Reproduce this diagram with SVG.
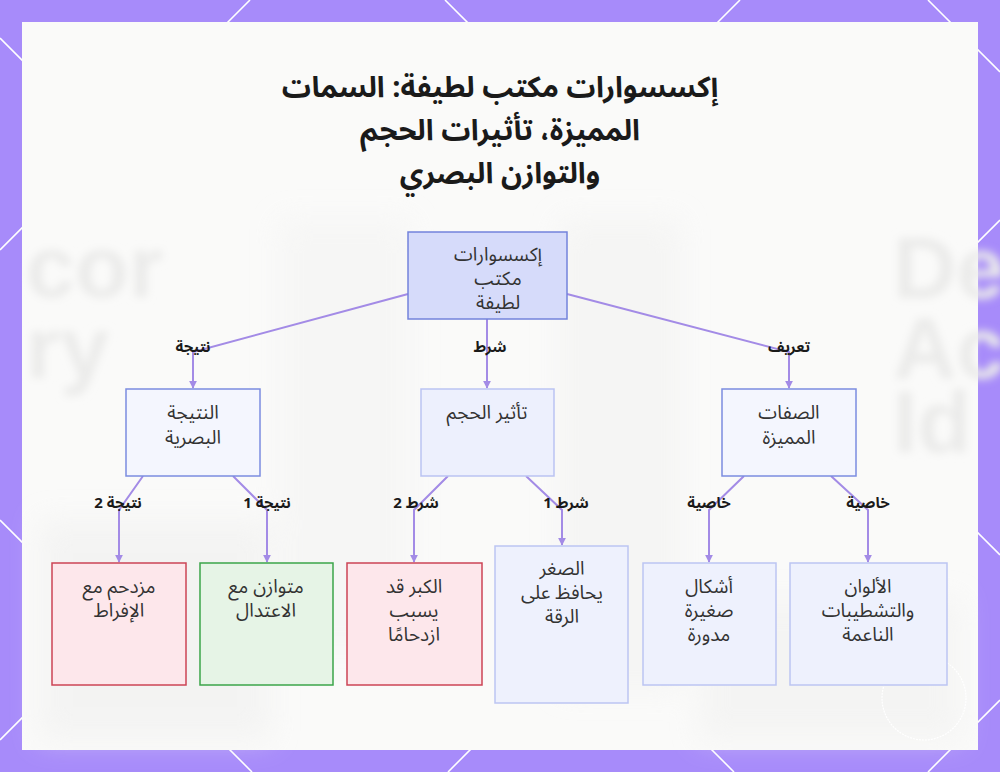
<svg xmlns="http://www.w3.org/2000/svg" width="1000" height="772" viewBox="0 0 1000 772">
<style>
  .ar{font-family:"Noto Sans Arabic","Noto Sans","DejaVu Sans",sans-serif;direction:rtl;}
  .title{font-size:29px;font-weight:bold;fill:#1a1a1a;text-anchor:middle;}
  .nt{font-size:19px;fill:#333333;text-anchor:middle;}
  .lbl{font-size:15px;font-weight:bold;fill:#1a1a1a;text-anchor:middle;}
  .edge{fill:none;stroke:#A38BE6;stroke-width:2;}
  .bline{stroke:#ffffff;stroke-width:1.6;}
  .bgtxt{font-family:"Liberation Sans",Arial,sans-serif;font-weight:bold;font-size:88px;fill:#ebebea;}
</style>
<defs>
  <marker id="arr" viewBox="0 0 10 10" refX="9" refY="5" markerWidth="4" markerHeight="4" orient="auto">
    <path d="M0,0 L10,5 L0,10 z" fill="#A38BE6"/>
  </marker>
  <filter id="blur" x="-20%" y="-20%" width="140%" height="140%"><feGaussianBlur stdDeviation="4"/></filter>
  <filter id="blur2" x="-20%" y="-20%" width="140%" height="140%"><feGaussianBlur stdDeviation="14"/></filter>
</defs>
<!-- border -->
<rect x="0" y="0" width="1000" height="772" fill="#A78BFA"/>
<g class="bline">
  <line x1="250" y1="0" x2="0" y2="250"/>
  <line x1="740" y1="0" x2="0" y2="740"/>
  <line x1="1000" y1="220" x2="448" y2="772"/>
  <line x1="1000" y1="700" x2="928" y2="772"/>
  <line x1="0" y1="520" x2="252" y2="772"/>
  <line x1="0" y1="38" x2="734" y2="772"/>
  <line x1="445" y1="0" x2="1000" y2="555"/>
  <line x1="928" y1="0" x2="1000" y2="72"/>
</g>
<!-- panel -->
<rect x="22" y="22" width="956" height="728" fill="#FAFAF9"/>
<g id="background" filter="url(#blur2)" opacity="0.55">
  <rect x="40" y="520" width="230" height="220" fill="#EFEFEE"/>
  <rect x="280" y="220" width="130" height="430" fill="#F3F3F2"/>
  <rect x="560" y="220" width="120" height="470" fill="#F1F1F0"/>
  <rect x="700" y="600" width="260" height="140" fill="#F0F0EF"/>
</g>
<g id="bg-text" filter="url(#blur)">
  <text class="bgtxt" x="26" y="297">cor</text>
  <text class="bgtxt" x="26" y="378">ry</text>
  <text class="bgtxt" x="893" y="298">De</text>
  <text class="bgtxt" x="893" y="378">Ac</text>
  <text class="bgtxt" x="893" y="452">Id</text>
</g>
<circle cx="924" cy="698" r="42" fill="none" stroke="#ffffff" stroke-width="1.2" stroke-dasharray="2 1"/>
<!-- title -->
<g id="title" class="ar title">
  <text x="500" y="97">إكسسوارات مكتب لطيفة: السمات</text>
  <text x="500" y="140">المميزة، تأثيرات الحجم</text>
  <text x="500" y="183">والتوازن البصري</text>
</g>
<!-- connectors -->
<g id="connectors">
  <polyline class="edge" points="408,294 193,352 193,388" marker-end="url(#arr)"/>
  <polyline class="edge" points="487,319 487,388" marker-end="url(#arr)"/>
  <polyline class="edge" points="567,294 789,352 789,388" marker-end="url(#arr)"/>
  <polyline class="edge" points="143,476 119,510 119,562" marker-end="url(#arr)"/>
  <polyline class="edge" points="233,476 267,510 267,562" marker-end="url(#arr)"/>
  <polyline class="edge" points="448,476 414,510 414,562" marker-end="url(#arr)"/>
  <polyline class="edge" points="526,476 562,510 562,545" marker-end="url(#arr)"/>
  <polyline class="edge" points="744,476 709,510 709,562" marker-end="url(#arr)"/>
  <polyline class="edge" points="831,476 868,510 868,562" marker-end="url(#arr)"/>
  <g class="ar lbl">
    <text x="193" y="352">نتيجة</text>
    <text x="490" y="352">شرط</text>
    <text x="789" y="352">تعريف</text>
    <text x="118" y="508">نتيجة 2</text>
    <text x="267" y="508">نتيجة 1</text>
    <text x="416" y="508">شرط 2</text>
    <text x="566" y="508">شرط 1</text>
    <text x="709" y="508">خاصية</text>
    <text x="868" y="508">خاصية</text>
  </g>
</g>
<!-- nodes -->
<g id="root">
  <rect x="408" y="232" width="159" height="87" fill="#D6DBFA" stroke="#7383DB" stroke-width="1.5"/>
  <g class="ar nt"><text x="498" y="261">إكسسوارات</text><text x="498" y="285">مكتب</text><text x="498" y="309">لطيفة</text></g>
</g>
<g id="visual-result">
  <rect x="126" y="389" width="134" height="87" fill="#F4F6FE" stroke="#7B8CE0" stroke-width="1.5"/>
  <g class="ar nt"><text x="193" y="419">النتيجة</text><text x="193" y="444">البصرية</text></g>
</g>
<g id="size-effect">
  <rect x="421" y="389" width="133" height="87" fill="#EDF0FD" stroke="#BAC3F2" stroke-width="1.5"/>
  <g class="ar nt"><text x="487" y="419">تأثير الحجم</text></g>
</g>
<g id="features">
  <rect x="722" y="389" width="134" height="87" fill="#F4F6FE" stroke="#7B8CE0" stroke-width="1.5"/>
  <g class="ar nt"><text x="789" y="419">الصفات</text><text x="789" y="444">المميزة</text></g>
</g>
<g id="crowded">
  <rect x="52" y="563" width="134" height="122" fill="#FDE7EB" stroke="#CC4455" stroke-width="1.5"/>
  <g class="ar nt"><text x="119" y="593">مزدحم مع</text><text x="119" y="617">الإفراط</text></g>
</g>
<g id="balanced">
  <rect x="200" y="563" width="133" height="122" fill="#E6F4E6" stroke="#3BA54A" stroke-width="1.5"/>
  <g class="ar nt"><text x="266" y="593">متوازن مع</text><text x="266" y="617">الاعتدال</text></g>
</g>
<g id="large">
  <rect x="347" y="563" width="135" height="122" fill="#FDE7EB" stroke="#CC4455" stroke-width="1.5"/>
  <g class="ar nt"><text x="414" y="593">الكبر قد</text><text x="414" y="617">يسبب</text><text x="414" y="641">ازدحامًا</text></g>
</g>
<g id="small">
  <rect x="495" y="546" width="133" height="157" fill="#EEF1FD" stroke="#BCC5F2" stroke-width="1.5"/>
  <g class="ar nt"><text x="562" y="575">الصغر</text><text x="562" y="599">يحافظ على</text><text x="562" y="623">الرقة</text></g>
</g>
<g id="shapes">
  <rect x="643" y="563" width="133" height="122" fill="#EEF1FD" stroke="#BCC5F2" stroke-width="1.5"/>
  <g class="ar nt"><text x="709" y="593">أشكال</text><text x="709" y="617">صغيرة</text><text x="709" y="641">مدورة</text></g>
</g>
<g id="colors">
  <rect x="790" y="563" width="157" height="122" fill="#EEF1FD" stroke="#BCC5F2" stroke-width="1.5"/>
  <g class="ar nt"><text x="868" y="593">الألوان</text><text x="868" y="617">والتشطيبات</text><text x="868" y="641">الناعمة</text></g>
</g>
</svg>
